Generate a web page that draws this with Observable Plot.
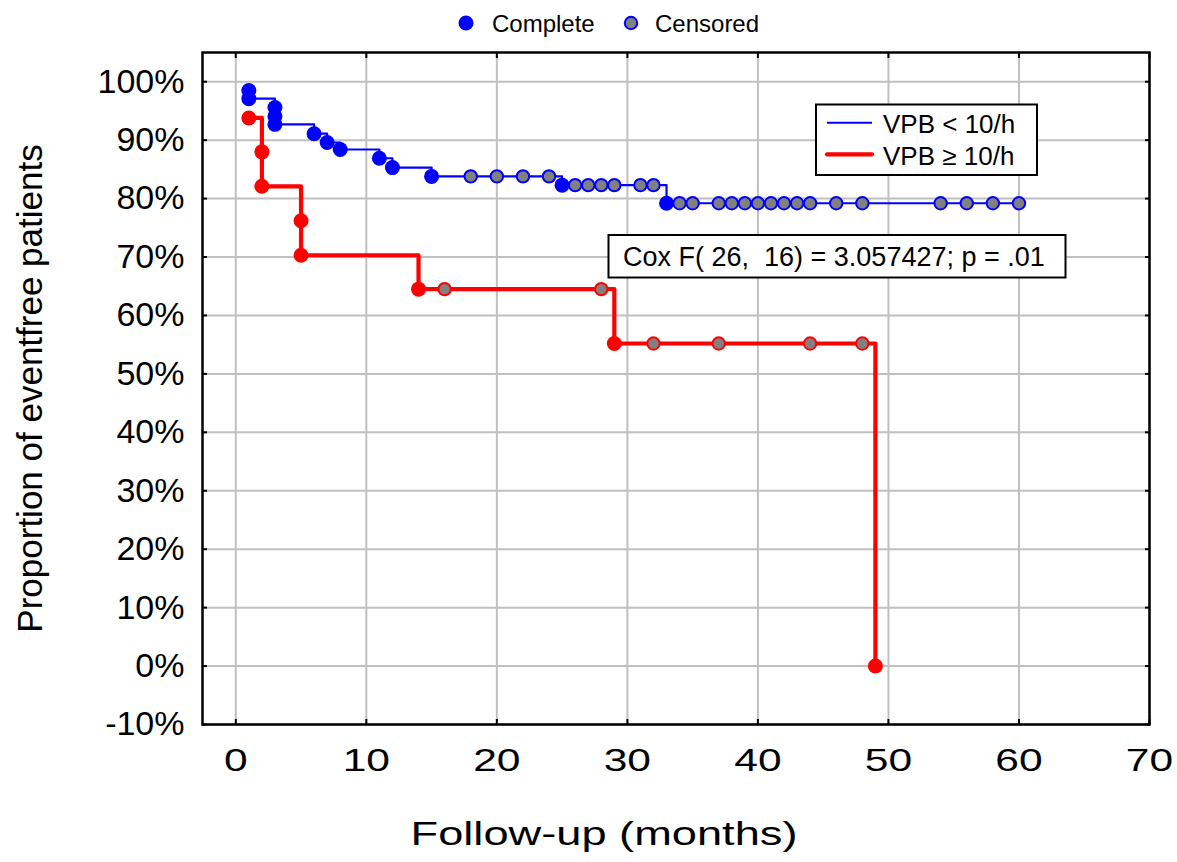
<!DOCTYPE html>
<html><head><meta charset="utf-8">
<script src="https://cdn.jsdelivr.net/npm/d3@7"></script>
<script src="https://cdn.jsdelivr.net/npm/@observablehq/plot@0.6"></script>
<style>
body{margin:0;background:#fff;font-family:"Liberation Sans",Arial,sans-serif;}
#wrap{position:relative;width:1177px;height:862px;}
</style></head><body><div id="wrap"></div>
<script>
// ---- data ----
const xTicks = [0, 10, 20, 30, 40, 50, 60, 70];
const yTicks = [-10, 0, 10, 20, 30, 40, 50, 60, 70, 80, 90, 100];

// VPB < 10/h (blue)
const blueEventMonths   = [1, 1, 3, 3, 3, 6, 7, 8, 11, 12, 15, 25, 33];
const blueEventSurvival = [98.5, 97.1, 95.6, 94.1, 92.7, 91.1, 89.6, 88.4, 86.9, 85.3, 83.8, 82.3, 79.2];
const blueCensMonths    = [18, 20, 22, 24, 26, 27, 28, 29, 31, 32, 34, 35, 37, 38, 39, 40, 41, 42, 43, 44, 46, 48, 54, 56, 58, 60];
const blueCensSurvival  = [83.8, 83.8, 83.8, 83.8, 82.3, 82.3, 82.3, 82.3, 82.3, 82.3, 79.2, 79.2, 79.2, 79.2, 79.2, 79.2, 79.2, 79.2, 79.2, 79.2, 79.2, 79.2, 79.2, 79.2, 79.2, 79.2];

// VPB >= 10/h (red)
const redEventMonths   = [1, 2, 2, 5, 5, 14, 29, 49];
const redEventSurvival = [93.8, 88.0, 82.1, 76.2, 70.3, 64.5, 55.2, 0];
const redCensMonths    = [16, 28, 32, 37, 44, 48];
const redCensSurvival  = [64.5, 64.5, 55.2, 55.2, 55.2, 55.2];

const seriesNames = ["VPB < 10/h", "VPB \u2265 10/h"];
const legendNames = ["Complete", "Censored"];
const coxText = "Cox F( 26,  16) = 3.057427; p = .01";
const xLabel = "Follow-up (months)";
const yLabel = "Proportion of eventfree patients";

// ---- tables ----
const toRows = (ms, ss, kind) => ms.map((m, i) => ({month: m, surv: ss[i], kind}));
const blueEvents = toRows(blueEventMonths, blueEventSurvival, "event");
const blueCens = toRows(blueCensMonths, blueCensSurvival, "cens");
const redEvents = toRows(redEventMonths, redEventSurvival, "event");
const redCens = toRows(redCensMonths, redCensSurvival, "cens");
const sortRows = rows => rows.map((r, i) => ({...r, i})).sort((a, b) => a.month - b.month || a.i - b.i);
const blueLine = sortRows([...blueEvents, ...blueCens]);
const redLine = sortRows([...redEvents, ...redCens]);

const BLUE = "#0000ff", RED = "#ff0000", GRAY = "#808080", GRID = "#c0c0c0";
const XSTRETCH = 1.33;

const chart = Plot.plot({
  width: 1177, height: 862,
  marginLeft: 202, marginRight: 28, marginTop: 52, marginBottom: 138,
  style: {fontFamily: "'Liberation Sans', Arial, sans-serif", color: "#000", background: "#fff"},
  x: {domain: [-2.55, 70]},
  y: {domain: [-10, 105]},
  marks: [
    Plot.gridX(xTicks, {stroke: GRID, strokeOpacity: 1, strokeWidth: 2}),
    Plot.gridY(yTicks, {stroke: GRID, strokeOpacity: 1, strokeWidth: 2}),
    Plot.axisX(xTicks, {anchor: "bottom", tickSize: 0, tickPadding: 24, fontSize: 32, label: null, tickFormat: d => String(d)}),
    Plot.axisY(yTicks, {anchor: "left", tickSize: 0, tickPadding: 18, fontSize: 34, label: null, tickFormat: d => d + "%"}),
    Plot.axisX(xTicks, {anchor: "bottom", tickSize: -5, text: null, label: null, strokeWidth: 2}),
    Plot.axisX(xTicks, {anchor: "top", tickSize: -5, text: null, label: null, strokeWidth: 2}),
    Plot.axisY(yTicks, {anchor: "left", tickSize: -5, text: null, label: null, strokeWidth: 2}),
    Plot.axisY(yTicks, {anchor: "right", tickSize: -5, text: null, label: null, strokeWidth: 2}),
    Plot.line(blueLine, {x: "month", y: "surv", curve: "step-after", stroke: BLUE, strokeWidth: 2.2}),
    Plot.line(redLine, {x: "month", y: "surv", curve: "step-after", stroke: RED, strokeWidth: 4.2}),
    Plot.dot(blueEvents, {x: "month", y: "surv", r: 7.5, fill: BLUE, stroke: null}),
    Plot.dot(blueCens, {x: "month", y: "surv", r: 6.2, fill: GRAY, stroke: BLUE, strokeWidth: 2}),
    Plot.dot(redEvents, {x: "month", y: "surv", r: 7.5, fill: RED, stroke: null}),
    Plot.dot(redCens, {x: "month", y: "surv", r: 6.2, fill: GRAY, stroke: RED, strokeWidth: 2}),
    Plot.text([yLabel], {text: d => d, frameAnchor: "left", textAnchor: "middle", lineAnchor: "middle", dx: -172, rotate: -90, fontSize: 35, fill: "#000"}),
    Plot.frame({stroke: "#000", strokeWidth: 2.5})
  ]
});
document.getElementById("wrap").appendChild(chart);

const svgSel = d3.select(chart);
const ff = "'Liberation Sans', Arial, sans-serif";

// The reference renders x-axis texts horizontally widened; mimic that.
function widen(el, k) {
  const t = el.getAttribute("transform");
  if (t && t.includes("translate")) {
    el.setAttribute("transform", t + ` scale(${k},1)`);
  } else {
    const x = +(el.getAttribute("x") || 0);
    el.setAttribute("transform", `translate(${x},0) scale(${k},1) translate(${-x},0)` + (t ? " " + t : ""));
  }
}
svgSel.selectAll('g[aria-label="x-axis tick label"] text').each(function() { widen(this, XSTRETCH); });

// x-axis title (centered where the reference has it)
const xTitle = svgSel.append("text").attr("font-family", ff).attr("font-size", 34).attr("text-anchor", "middle")
  .attr("transform", `translate(604,845) scale(${XSTRETCH},1)`).text(xLabel);

// top legend
const topLegend = svgSel.append("g").attr("font-family", ff).attr("font-size", 24).attr("text-anchor", "start");
topLegend.append("circle").attr("cx", 466).attr("cy", 23).attr("r", 7.5).attr("fill", BLUE);
topLegend.append("text").attr("x", 492).attr("y", 32).text(legendNames[0]);
topLegend.append("circle").attr("cx", 631).attr("cy", 23).attr("r", 6.2).attr("fill", GRAY).attr("stroke", BLUE).attr("stroke-width", 2);
topLegend.append("text").attr("x", 655).attr("y", 32).text(legendNames[1]);

// series legend box
const seriesLegend = svgSel.append("g").attr("font-family", ff).attr("font-size", 26).attr("text-anchor", "start");
seriesLegend.append("rect").attr("x", 816).attr("y", 104.5).attr("width", 221).attr("height", 70.5)
  .attr("fill", "#fff").attr("stroke", "#000").attr("stroke-width", 2);
seriesLegend.append("line").attr("x1", 827).attr("x2", 872).attr("y1", 122.7).attr("y2", 122.7).attr("stroke", BLUE).attr("stroke-width", 2);
seriesLegend.append("line").attr("x1", 827).attr("x2", 872).attr("y1", 154.3).attr("y2", 154.3).attr("stroke", RED).attr("stroke-width", 4.2).attr("stroke-linecap", "round");
seriesLegend.append("text").attr("x", 883).attr("y", 133).text(seriesNames[0]);
seriesLegend.append("text").attr("x", 883).attr("y", 165).text(seriesNames[1]);

// Cox box
const coxBox = svgSel.append("g").attr("font-family", ff).attr("font-size", 27).attr("text-anchor", "start");
coxBox.append("rect").attr("x", 608.5).attr("y", 235).attr("width", 457).attr("height", 42.5)
  .attr("fill", "#fff").attr("stroke", "#000").attr("stroke-width", 2);
coxBox.append("text").attr("x", 623).attr("y", 265.5).style("white-space", "pre").attr("xml:space", "preserve").text(coxText);
</script></body></html>
